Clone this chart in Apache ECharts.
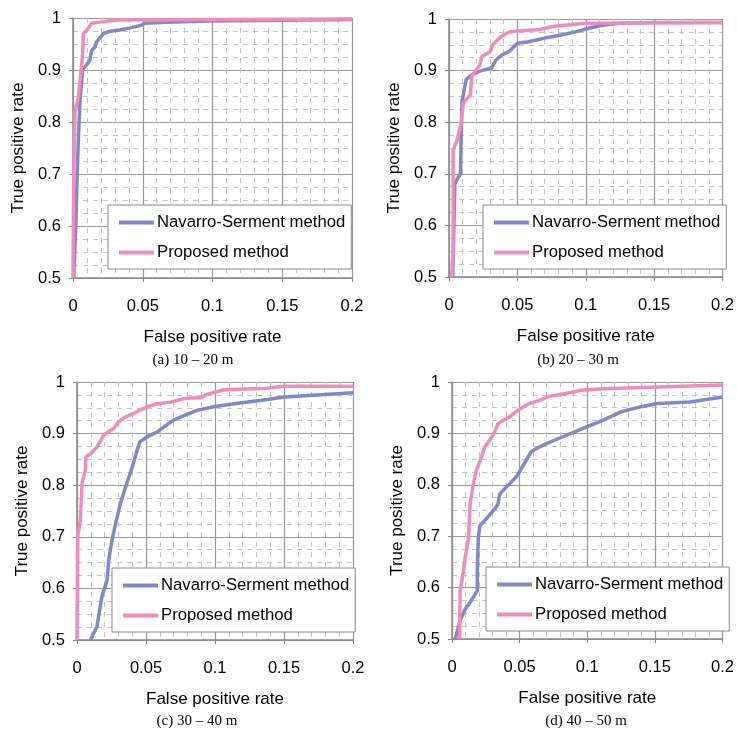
<!DOCTYPE html>
<html>
<head>
<meta charset="utf-8">
<script src="https://cdn.jsdelivr.net/npm/echarts@6/dist/echarts.min.js"></script>
<style>
  html, body { margin: 0; padding: 0; background: #fff; }
  #main { width: 737px; height: 731px; }
</style>
</head>
<body>
<div id="main"></div>
<script>
// ROC points [false positive rate, true positive rate]
var navA = [[0.0005,0.5],[0.002,0.6],[0.003,0.7],[0.004,0.777],[0.005,0.84],[0.0069,0.9],[0.012,0.918],[0.0133,0.937],[0.0157,0.944],[0.017,0.954],[0.0217,0.97],[0.026,0.974],[0.0336,0.977],[0.041,0.981],[0.049,0.986],[0.0514,0.99],[0.067,0.992],[0.098,0.994],[0.2,0.997]];
var propA = [[0,0.5],[0.0005,0.7],[0.0014,0.82],[0.0038,0.847],[0.006,0.905],[0.0069,0.931],[0.0074,0.97],[0.0098,0.976],[0.0117,0.983],[0.0133,0.99],[0.0217,0.993],[0.031,0.996],[0.2,0.998]];

var navB = [[0.0027,0.5],[0.0043,0.68],[0.006,0.69],[0.0084,0.7],[0.0087,0.745],[0.009,0.79],[0.0095,0.84],[0.0126,0.883],[0.0167,0.892],[0.0226,0.899],[0.031,0.905],[0.0345,0.921],[0.039,0.931],[0.044,0.937],[0.05,0.953],[0.058,0.956],[0.07,0.963],[0.082,0.969],[0.094,0.976],[0.102,0.982],[0.112,0.988],[0.126,0.992],[0.15,0.993],[0.2,0.993]];
var propB = [[0.002,0.5],[0.003,0.553],[0.003,0.745],[0.006,0.766],[0.009,0.8],[0.0104,0.837],[0.0155,0.853],[0.0167,0.89],[0.0226,0.911],[0.024,0.927],[0.03,0.937],[0.032,0.95],[0.038,0.966],[0.044,0.975],[0.051,0.977],[0.065,0.979],[0.077,0.986],[0.092,0.99],[0.102,0.992],[0.2,0.993]];

var navC = [[0.0097,0.5],[0.0145,0.526],[0.018,0.584],[0.0218,0.616],[0.023,0.655],[0.0254,0.694],[0.028,0.726],[0.0315,0.765],[0.036,0.803],[0.04,0.835],[0.0436,0.868],[0.0455,0.884],[0.051,0.894],[0.058,0.903],[0.063,0.913],[0.07,0.926],[0.0775,0.935],[0.087,0.945],[0.099,0.952],[0.114,0.958],[0.138,0.966],[0.15,0.971],[0.174,0.975],[0.2,0.979]];
var propC = [[0,0.5],[0.0005,0.7],[0.0024,0.732],[0.0036,0.803],[0.006,0.829],[0.0065,0.855],[0.0097,0.861],[0.0145,0.874],[0.0194,0.897],[0.024,0.906],[0.0266,0.91],[0.03,0.923],[0.035,0.932],[0.041,0.939],[0.046,0.946],[0.051,0.952],[0.058,0.958],[0.068,0.961],[0.0775,0.968],[0.09,0.97],[0.094,0.976],[0.1065,0.985],[0.138,0.988],[0.15,0.992],[0.2,0.992]];

var navD = [[0.0024,0.5],[0.006,0.536],[0.0097,0.558],[0.0134,0.571],[0.0187,0.594],[0.0187,0.633],[0.0195,0.698],[0.0207,0.721],[0.0255,0.734],[0.0316,0.753],[0.034,0.763],[0.0353,0.782],[0.04,0.795],[0.0474,0.815],[0.0535,0.841],[0.0584,0.864],[0.062,0.87],[0.069,0.879],[0.0815,0.893],[0.096,0.909],[0.111,0.925],[0.125,0.942],[0.14,0.952],[0.152,0.958],[0.176,0.961],[0.2,0.971]];
var propD = [[0.0056,0.5],[0.006,0.594],[0.0085,0.633],[0.0097,0.659],[0.0122,0.695],[0.0127,0.724],[0.0134,0.763],[0.0158,0.802],[0.018,0.828],[0.0219,0.855],[0.0243,0.874],[0.028,0.887],[0.0316,0.903],[0.034,0.919],[0.0377,0.925],[0.0426,0.932],[0.0487,0.945],[0.057,0.958],[0.0645,0.964],[0.0718,0.972],[0.0815,0.976],[0.096,0.984],[0.111,0.987],[0.135,0.989],[0.2,0.994]];

var captions = ['(a) 10 \u2013 20 m', '(b) 20 \u2013 30 m', '(c) 30 \u2013 40 m', '(d) 40 \u2013 50 m'];
var seriesNames = ['Navarro-Serment method', 'Proposed method'];

var blue = '#8088c8', pink = '#f08cbc';
var font = 'Liberation Sans, Arial, sans-serif';

var panels = [
  { grid: { left: 73, top: 18, width: 279, height: 260 }, legend: { left: 108, top: 205 }, cap: [193, 360], nav: navA, prop: propA },
  { grid: { left: 449, top: 19, width: 277, height: 258 }, legend: { left: 483, top: 205 }, cap: [578, 360], nav: navB, prop: propB },
  { grid: { left: 77, top: 382, width: 276, height: 258 }, legend: { left: 112, top: 568 }, cap: [197, 721], nav: navC, prop: propC },
  { grid: { left: 452, top: 382, width: 274, height: 257 }, legend: { left: 486, top: 567 }, cap: [586, 721], nav: navD, prop: propD }
];

var option = { animation: false, backgroundColor: '#fff', grid: [], xAxis: [], yAxis: [], series: [], legend: [], graphic: [] };

panels.forEach(function (p, i) {
  option.grid.push(p.grid);
  option.xAxis.push({
    type: 'value', gridIndex: i, min: 0, max: 0.2, interval: 0.05,
    name: 'False positive rate', nameLocation: 'middle', nameGap: 51,
    nameTextStyle: { fontFamily: font, fontSize: 17, color: '#000' },
    axisLine: { lineStyle: { color: '#888', width: 1.5 } },
    axisTick: { show: true, length: 4, lineStyle: { color: '#888' } },
    axisLabel: { fontFamily: font, fontSize: 16.5, color: '#000', margin: 20 },
    splitLine: { lineStyle: { color: '#999', width: 1.2 } },
    minorTick: { show: false, splitNumber: 5 },
    minorSplitLine: { show: true, lineStyle: { color: '#c4c4c4', width: 1, type: [5, 5] } }
  });
  option.yAxis.push({
    type: 'value', gridIndex: i, min: 0.5, max: 1, interval: 0.1,
    name: 'True positive rate', nameLocation: 'middle', nameGap: 46,
    nameTextStyle: { fontFamily: font, fontSize: 17, color: '#000' },
    axisLine: { show: true, lineStyle: { color: '#888', width: 1.5 } },
    axisTick: { show: true, length: 4, lineStyle: { color: '#888' } },
    axisLabel: { fontFamily: font, fontSize: 16.5, color: '#000', margin: 12 },
    splitLine: { lineStyle: { color: '#999', width: 1.2 } },
    minorTick: { show: false, splitNumber: 4 },
    minorSplitLine: { show: true, lineStyle: { color: '#c4c4c4', width: 1, type: [5, 5] } }
  });
  [p.nav, p.prop].forEach(function (d, k) {
    option.series.push({
      type: 'line', name: seriesNames[k], xAxisIndex: i, yAxisIndex: i,
      data: d, showSymbol: false, symbol: 'none', clip: true,
      lineStyle: { color: k === 0 ? blue : pink, width: 3.5 },
      itemStyle: { color: k === 0 ? blue : pink },
      z: 3 + k
    });
  });
  option.legend.push({
    left: p.legend.left, top: p.legend.top, orient: 'vertical',
    data: seriesNames, icon: 'rect', itemWidth: 35, itemHeight: 4, itemGap: 13,
    padding: [9, 6, 8, 11], backgroundColor: '#fff', borderColor: '#888', borderWidth: 1,
    textStyle: { fontFamily: font, fontSize: 16.7, color: '#000', padding: [0, 0, 0, -2] },
    selectedMode: false, z: 10
  });
  option.graphic.push({
    type: 'text', x: p.cap[0], y: p.cap[1],
    style: { text: captions[i], fill: '#000', font: '15px "Liberation Serif", "Times New Roman", serif', textAlign: 'center', textVerticalAlign: 'middle' }
  });
});

var myChart = echarts.init(document.getElementById('main'));
myChart.setOption(option);
</script>
</body>
</html>
